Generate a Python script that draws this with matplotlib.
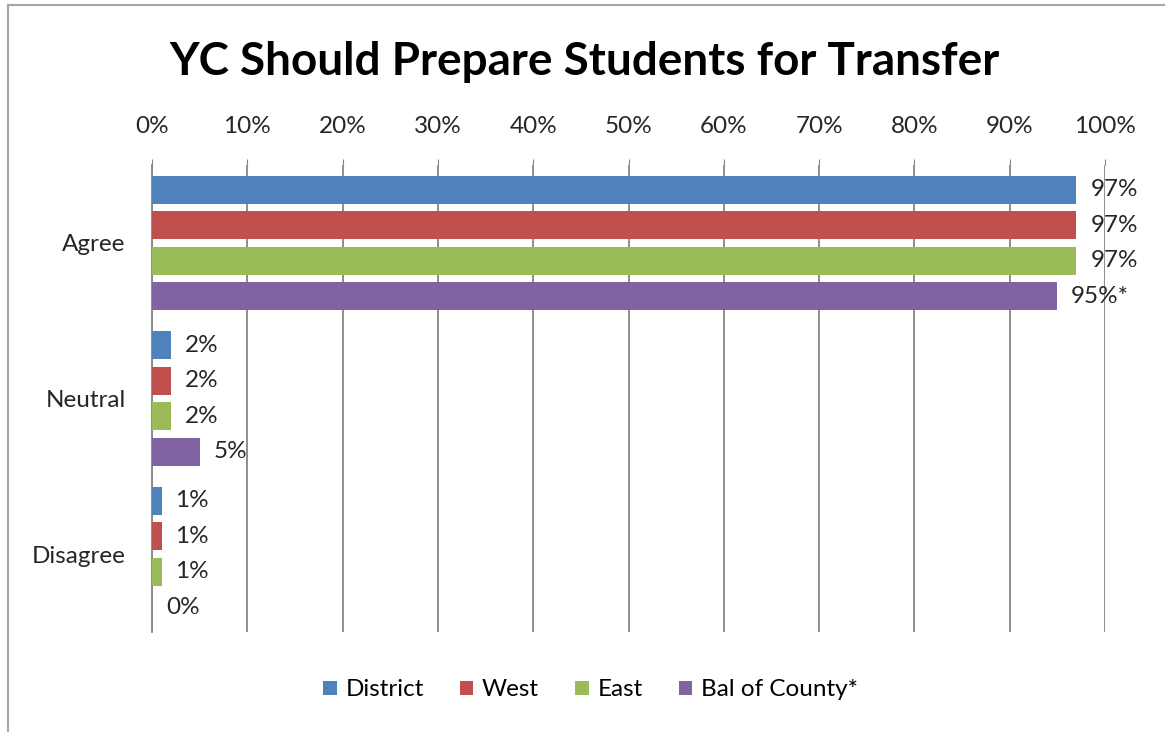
import numpy as np
import matplotlib.pyplot as plt
from matplotlib.lines import Line2D

categories = ["Agree", "Neutral", "Disagree"]
series = ["District", "West", "East", "Bal of County*"]
district = [97, 2, 1]
west = [97, 2, 1]
east = [97, 2, 1]
bal_county = [95, 5, 0]
bal_labels = ["95%*", "5%", "0%"]

colors = ["#4F81BD", "#C0504D", "#9BBB59", "#8064A2"]

plt.rcParams['font.family'] = ['Lato', 'DejaVu Sans']

fig = plt.figure(figsize=(11.65, 7.32), dpi=100)
ax = fig.add_axes([152/1165, 1 - 632/732, 953/1165, 467/732])

# frame edges visible at top and left of the chart
fig.lines.append(Line2D([8/1165, 8/1165], [0, 1 - 5/732], transform=fig.transFigure,
                        color="#a6a6a6", linewidth=1.5))
fig.lines.append(Line2D([8/1165, 1], [1 - 5/732, 1 - 5/732], transform=fig.transFigure,
                        color="#a6a6a6", linewidth=1.5))

y = np.arange(len(categories))
pitch = 0.228
height = 0.18
data = [district, west, east, bal_county]
for i, (name, vals) in enumerate(zip(series, data)):
    pos = y + (i - 1.5) * pitch
    ax.barh(pos, vals, height=height, color=colors[i], label=name, zorder=3)
    for k, (p, v) in enumerate(zip(pos, vals)):
        txt = bal_labels[k] if i == 3 else f"{v}%"
        ax.annotate(txt, (v, p), xytext=(10, 0), textcoords="offset points",
                    va="center", ha="left", fontsize=17.5, color="#262626")

ax.set_xlim(0, 100)
ax.set_ylim(2.5, -0.5)
ax.set_xticks(np.arange(0, 101, 10))
ax.set_xticklabels([f"{t}%" for t in range(0, 101, 10)])
ax.xaxis.tick_top()
ax.tick_params(axis="x", direction="out", length=4, color="#868686", labelsize=17.5,
               pad=16, labelcolor="#262626")
ax.set_yticks(y)
ax.set_yticklabels(categories)
ax.tick_params(axis="y", length=0, labelsize=17.5, pad=19, labelcolor="#262626")
ax.grid(axis="x", color="#868686", linewidth=1.3, zorder=0)
for s in ["top", "right", "bottom"]:
    ax.spines[s].set_visible(False)
ax.spines["left"].set_color("#868686")
ax.spines["left"].set_linewidth(1.3)

fig.text(0.502, 1 - 62/732, "YC Should Prepare Students for Transfer", ha="center", va="center",
         fontsize=33, fontweight="bold", color="black")

fig.legend(loc="center", bbox_to_anchor=(0.507, 1 - 690/732), ncol=4, frameon=False,
           fontsize=17.5, handlelength=0.55, handleheight=0.55, handletextpad=0.35,
           columnspacing=1.5)

fig.savefig("out.png", dpi=100)
